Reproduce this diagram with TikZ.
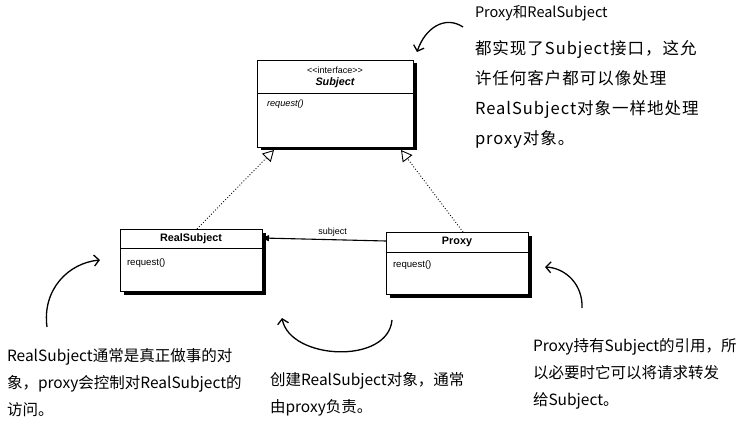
\documentclass[tikz,border=0pt]{standalone}
\usepackage{fontspec}
\setmainfont{Liberation Sans}
\newfontfamily\handfont{Noto Sans CJK SC}
\newfontfamily\widehandfont[LetterSpace=6]{Noto Sans CJK SC}
\usetikzlibrary{arrows.meta,calc,positioning,shadows}

\begin{document}
\begin{tikzpicture}[x=1pt,y=-1pt,
    every node/.style={inner sep=0pt,outer sep=0pt},
    classbox/.style={draw,line width=.8pt,fill=white,anchor=north west,
      drop shadow={opacity=1,fill=black,shadow xshift=3.5pt,shadow yshift=-3.5pt}},
    title/.style={font=\fontsize{10.8}{12}\selectfont\bfseries},
    method/.style={font=\fontsize{9.6}{11}\selectfont,anchor=west},
    note/.style={font=\handfont\fontsize{15.5}{27}\selectfont,align=left,anchor=north west},
    realizes/.style={dotted,line width=.9pt,-{Triangle[open,length=11pt,width=12pt]}},
    hand/.style={line width=1.3pt,-{Straight Barb[length=5pt,width=11pt]}}]

    \path[use as bounding box,fill=white] (0,0) rectangle (752,422);

    % interface
    \node[classbox,minimum width=156pt,minimum height=87pt] (SUBJECT) at (257,60) {};
    \draw[line width=.8pt] ([yshift=-33pt]SUBJECT.north west) -- ([yshift=-33pt]SUBJECT.north east);
    \node[font=\fontsize{9}{10}\selectfont] (STEREO) at (335,70) {<{}<interface>{}>};
    \node[title] (SUBJECTNAME) at (335,83) {\itshape Subject};
    \node[method,font=\fontsize{9.2}{11}\selectfont] (SUBJECTOP) at (267,104) {\itshape request()};

    % classes
    \node[classbox,minimum width=142pt,minimum height=62pt] (REALSUBJECT) at (120,229) {};
    \draw[line width=.8pt] ([yshift=-19pt]REALSUBJECT.north west) -- ([yshift=-19pt]REALSUBJECT.north east);
    \node[title] (REALNAME) at (191,239) {RealSubject};
    \node[method] (REALOP) at (127,263) {request()};

    \node[classbox,minimum width=142pt,minimum height=62pt] (PROXY) at (386,232) {};
    \draw[line width=.8pt] ([yshift=-20pt]PROXY.north west) -- ([yshift=-20pt]PROXY.north east);
    \node[title] (PROXYNAME) at (457,242) {Proxy};
    \node[method] (PROXYOP) at (393,265) {request()};

    \draw[line width=1.1pt,-{Triangle[length=7pt,width=6pt]}] ([yshift=-9pt]PROXY.north west)
      -- node[pos=.43,above=3pt,font=\fontsize{9}{10}\selectfont] (ASSOC) {subject} ([yshift=-9pt]REALSUBJECT.north east);

    \draw[realizes] ([xshift=6pt]REALSUBJECT.north) -- ([xshift=17pt,yshift=-3pt]SUBJECT.south west);
    \draw[realizes] ([xshift=6pt]PROXY.north) -- ([xshift=-12pt,yshift=-3pt]SUBJECT.south east);

    % notes
    \node[note,font=\widehandfont\fontsize{16.5}{30}\selectfont] (NOTETOP) at (475,5)
      {{\handfont\fontsize{14.5}{30}\selectfont Proxy和RealSubject}\\[7pt]都实现了Subject接口，这允\\许任何客户都可以像处理\\RealSubject对象一样地处理\\proxy对象。};
    \node[note] (NOTEREAL) at (7,348)
      {RealSubject通常是真正做事的对\\象，proxy会控制对RealSubject的\\访问。};
    \node[note] (NOTECREATE) at (270,372)
      {创建RealSubject对象，通常\\由proxy负责。};
    \node[note] (NOTEPROXY) at (533,338)
      {Proxy持有Subject的引用，所\\以必要时它可以将请求转发\\给Subject。};

    \coordinate (TOPFROM) at (463,27);
    \coordinate (TOPTO) at (417,52);
    \coordinate (REALFROM) at (47,327);
    \coordinate (REALTO) at (100,260);
    \coordinate (CREATEFROM) at (392,320);
    \coordinate (CREATETO) at (282,318);
    \coordinate (PROXYFROM) at (582,308);
    \coordinate (PROXYTO) at (545,267);

    \draw[hand] (TOPFROM) .. controls (445,15) and (425,28) .. (TOPTO);
    \draw[hand] (REALFROM) .. controls (42,290) and (68,263) .. (REALTO);
    \draw[hand] (CREATEFROM) .. controls (388,365) and (290,360) .. (CREATETO);
    \draw[hand] (PROXYFROM) .. controls (583,285) and (566,268) .. (PROXYTO);

\end{tikzpicture}
\end{document}
